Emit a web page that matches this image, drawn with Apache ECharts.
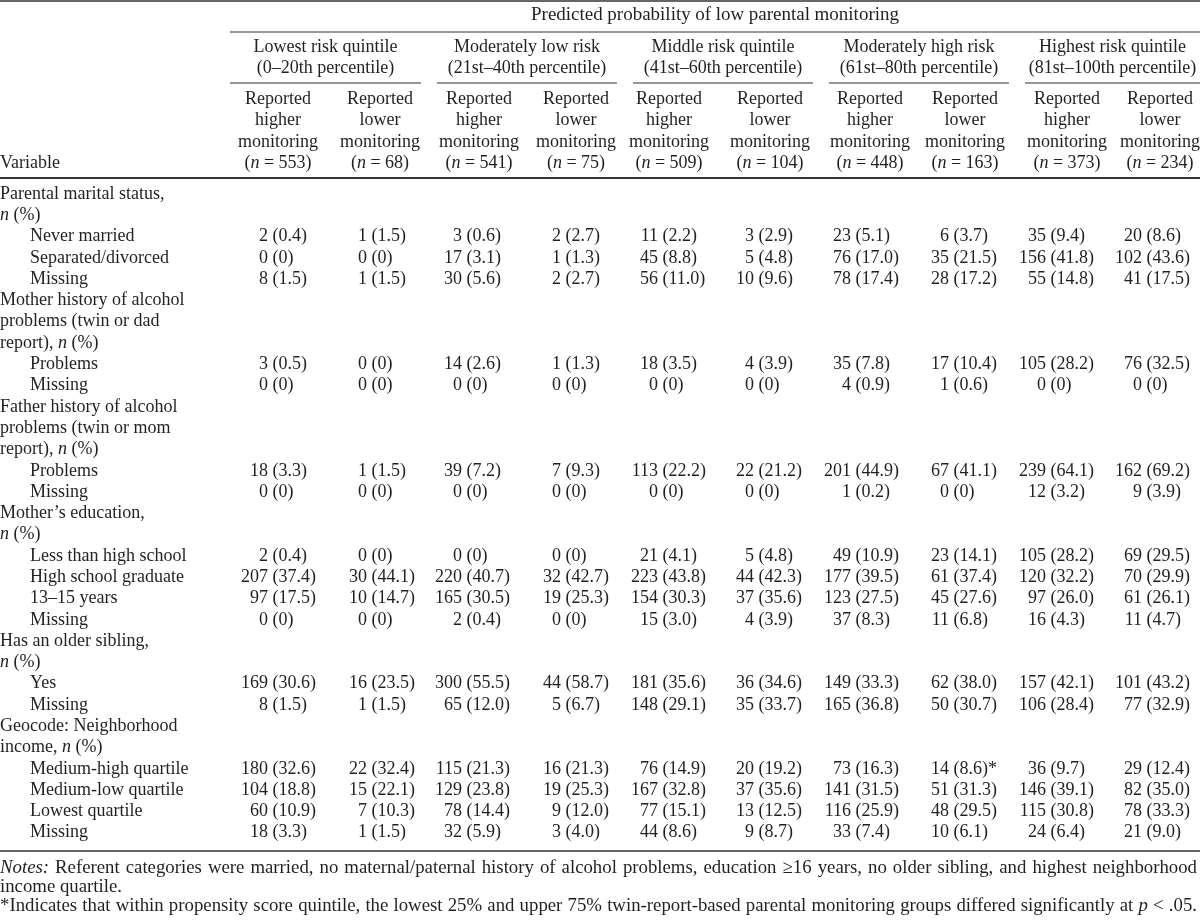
<!DOCTYPE html>
<html><head><meta charset="utf-8">
<script src="https://cdn.jsdelivr.net/npm/echarts@6/dist/echarts.min.js"></script>
<style>html,body{margin:0;padding:0;background:#fff}#c{width:1200px;height:921px}</style>
</head><body><div id="c"></div>
<script>
// ---------------- DATA ----------------
const spanTitle = 'Predicted probability of low parental monitoring';
const quintileTitles = ['Lowest risk quintile', 'Moderately low risk', 'Middle risk quintile', 'Moderately high risk', 'Highest risk quintile'];
const quintileRanges = ['(0–20th percentile)', '(21st–40th percentile)', '(41st–60th percentile)', '(61st–80th percentile)', '(81st–100th percentile)'];
const groupLabels = [['Reported', 'higher', 'monitoring'], ['Reported', 'lower', 'monitoring']];
const groupSizes = [553, 68, 541, 75, 509, 104, 448, 163, 373, 234];

const rowLabels = [
  'Parental marital status,', 'n (%)', 'Never married', 'Separated/divorced', 'Missing',
  'Mother history of alcohol', 'problems (twin or dad', 'report), n (%)', 'Problems', 'Missing',
  'Father history of alcohol', 'problems (twin or mom', 'report), n (%)', 'Problems', 'Missing',
  'Mother’s education,', 'n (%)', 'Less than high school', 'High school graduate', '13–15 years', 'Missing',
  'Has an older sibling,', 'n (%)', 'Yes', 'Missing',
  'Geocode: Neighborhood', 'income, n (%)', 'Medium-high quartile', 'Medium-low quartile', 'Lowest quartile', 'Missing'
];
const dataRows = [2, 3, 4, 8, 9, 13, 14, 17, 18, 19, 20, 23, 24, 27, 28, 29, 30];

const q1Higher = ['2 (0.4)', '0 (0)', '8 (1.5)', '3 (0.5)', '0 (0)', '18 (3.3)', '0 (0)', '2 (0.4)', '207 (37.4)', '97 (17.5)', '0 (0)', '169 (30.6)', '8 (1.5)', '180 (32.6)', '104 (18.8)', '60 (10.9)', '18 (3.3)'];
const q1Lower  = ['1 (1.5)', '0 (0)', '1 (1.5)', '0 (0)', '0 (0)', '1 (1.5)', '0 (0)', '0 (0)', '30 (44.1)', '10 (14.7)', '0 (0)', '16 (23.5)', '1 (1.5)', '22 (32.4)', '15 (22.1)', '7 (10.3)', '1 (1.5)'];
const q2Higher = ['3 (0.6)', '17 (3.1)', '30 (5.6)', '14 (2.6)', '0 (0)', '39 (7.2)', '0 (0)', '0 (0)', '220 (40.7)', '165 (30.5)', '2 (0.4)', '300 (55.5)', '65 (12.0)', '115 (21.3)', '129 (23.8)', '78 (14.4)', '32 (5.9)'];
const q2Lower  = ['2 (2.7)', '1 (1.3)', '2 (2.7)', '1 (1.3)', '0 (0)', '7 (9.3)', '0 (0)', '0 (0)', '32 (42.7)', '19 (25.3)', '0 (0)', '44 (58.7)', '5 (6.7)', '16 (21.3)', '19 (25.3)', '9 (12.0)', '3 (4.0)'];
const q3Higher = ['11 (2.2)', '45 (8.8)', '56 (11.0)', '18 (3.5)', '0 (0)', '113 (22.2)', '0 (0)', '21 (4.1)', '223 (43.8)', '154 (30.3)', '15 (3.0)', '181 (35.6)', '148 (29.1)', '76 (14.9)', '167 (32.8)', '77 (15.1)', '44 (8.6)'];
const q3Lower  = ['3 (2.9)', '5 (4.8)', '10 (9.6)', '4 (3.9)', '0 (0)', '22 (21.2)', '0 (0)', '5 (4.8)', '44 (42.3)', '37 (35.6)', '4 (3.9)', '36 (34.6)', '35 (33.7)', '20 (19.2)', '37 (35.6)', '13 (12.5)', '9 (8.7)'];
const q4Higher = ['23 (5.1)', '76 (17.0)', '78 (17.4)', '35 (7.8)', '4 (0.9)', '201 (44.9)', '1 (0.2)', '49 (10.9)', '177 (39.5)', '123 (27.5)', '37 (8.3)', '149 (33.3)', '165 (36.8)', '73 (16.3)', '141 (31.5)', '116 (25.9)', '33 (7.4)'];
const q4Lower  = ['6 (3.7)', '35 (21.5)', '28 (17.2)', '17 (10.4)', '1 (0.6)', '67 (41.1)', '0 (0)', '23 (14.1)', '61 (37.4)', '45 (27.6)', '11 (6.8)', '62 (38.0)', '50 (30.7)', '14 (8.6)*', '51 (31.3)', '48 (29.5)', '10 (6.1)'];
const q5Higher = ['35 (9.4)', '156 (41.8)', '55 (14.8)', '105 (28.2)', '0 (0)', '239 (64.1)', '12 (3.2)', '105 (28.2)', '120 (32.2)', '97 (26.0)', '16 (4.3)', '157 (42.1)', '106 (28.4)', '36 (9.7)', '146 (39.1)', '115 (30.8)', '24 (6.4)'];
const q5Lower  = ['20 (8.6)', '102 (43.6)', '41 (17.5)', '76 (32.5)', '0 (0)', '162 (69.2)', '9 (3.9)', '69 (29.5)', '70 (29.9)', '61 (26.1)', '11 (4.7)', '101 (43.2)', '77 (32.9)', '29 (12.4)', '82 (35.0)', '78 (33.3)', '21 (9.0)'];

const notesLine1 = '{i|Notes:} Referent categories were married, no maternal/paternal history of alcohol problems, education ≥16 years, no older sibling, and highest neighborhood';
const notesLine2 = 'income quartile.';
const notesLine3 = '*Indicates that within propensity score quintile, the lowest 25% and upper 75% twin-report-based parental monitoring groups differed significantly at {i|p} < .05.';

// ---------------- LAYOUT ----------------
const columns = [q1Higher, q1Lower, q2Higher, q2Lower, q3Higher, q3Lower, q4Higher, q4Lower, q5Higher, q5Lower];
const colAnchor = [268, 367, 462, 561, 658, 754, 851, 949, 1046, 1142];
const headCenter = [278, 380, 479, 576, 669, 770, 870, 965, 1067, 1160];
const segments = [[230, 421], [437, 617], [633, 813], [829, 1009], [1025, 1200]];
const FF = '"Liberation Serif", "Times New Roman", serif';
const FS = 18;
const FS_TITLE = 19;
const FS_NOTE = 18.8;
const INK = '#231f20';
const RULE = '#333';
const ROWH = 21.29, FIRSTY = 194;

function richFor(fs) { return { i: { fontStyle: 'italic', fontFamily: FF, fontSize: fs, fill: INK } }; }
function txt(x, y, text, align, fs) {
  fs = fs || FS;
  return {
    type: 'text', x: x, y: y, silent: true,
    style: { text: text, align: align || 'center', verticalAlign: 'middle', fontFamily: FF, fontSize: fs, fill: INK, rich: richFor(fs) }
  };
}
function rule(x1, x2, y, w) {
  return { type: 'line', silent: true, shape: { x1: x1, y1: y, x2: x2, y2: y }, style: { stroke: RULE, lineWidth: w } };
}
function italN(s) { return s.replace(/\bn \(%\)/, '{i|n} (%)'); }

const mctx = document.createElement('canvas').getContext('2d');
function measure(seg, italic, fs) { mctx.font = (italic ? 'italic ' : '') + fs + 'px ' + FF; return mctx.measureText(seg).width; }
function wordWidth(w, fs) {
  let total = 0; const re = /\{i\|([^}]*)\}|([^{]+)/g; let m;
  while ((m = re.exec(w))) total += (m[1] !== undefined) ? measure(m[1], true, fs) : measure(m[2], false, fs);
  return total;
}
function justified(out, x0, x1, y, line, fs) {
  const words = line.split(' ');
  const widths = words.map(w => wordWidth(w, fs));
  const sum = widths.reduce((a, b) => a + b, 0);
  const gap = (x1 - x0 - sum) / (words.length - 1);
  let x = x0;
  words.forEach((w, k) => { out.push(txt(x, y, w, 'left', fs)); x += widths[k] + gap; });
}

const graphics = [];
graphics.push(rule(0, 1200, 1, 1.6));
justified(graphics, 531, 899, 15, spanTitle, FS_TITLE);
graphics.push(rule(230, 1200, 32, 1.1));
segments.forEach((s, q) => {
  const cx = (s[0] + s[1]) / 2;
  graphics.push(txt(cx, 47, quintileTitles[q]));
  graphics.push(txt(cx, 68, quintileRanges[q]));
  graphics.push(rule(s[0], s[1], 83, 1.1));
});
headCenter.forEach((cx, c) => {
  const g = groupLabels[c % 2];
  graphics.push(txt(cx, 99, g[0]));
  graphics.push(txt(cx, 120, g[1]));
  graphics.push(txt(cx, 142, g[2]));
  graphics.push(txt(cx, 163, '({i|n} = ' + groupSizes[c] + ')'));
});
graphics.push(txt(0, 163, 'Variable', 'left'));
graphics.push(rule(0, 1200, 178, 1.8));
graphics.push(rule(0, 1200, 851, 1.6));
justified(graphics, 0, 1197, 868, notesLine1, FS_NOTE);
graphics.push(txt(0, 887, notesLine2, 'left', FS_NOTE));
justified(graphics, 0, 1197, 906, notesLine3, FS_NOTE);

const gridTop = FIRSTY - ROWH / 2;
const series = [];
series.push({
  type: 'custom', silent: true,
  data: rowLabels.map((l, i) => [dataRows.indexOf(i) >= 0 ? 30 : 0, i]),
  renderItem: function (params, api) {
    const p = api.coord([api.value(0), api.value(1)]);
    return txt(p[0], p[1], italN(rowLabels[params.dataIndex]), 'left');
  }
});
columns.forEach((vals, c) => {
  series.push({
    type: 'custom', silent: true,
    data: dataRows.map(r => [colAnchor[c], r]),
    renderItem: function (params, api) {
      const p = api.coord([api.value(0), api.value(1)]);
      const s = vals[params.dataIndex];
      const k = s.indexOf(' ');
      return {
        type: 'group',
        children: [
          txt(p[0], p[1], s.slice(0, k), 'right'),
          txt(p[0] + FS * 0.25, p[1], s.slice(k + 1), 'left')
        ]
      };
    }
  });
});

const chart = echarts.init(document.getElementById('c'), null, { renderer: 'canvas' });
chart.setOption({
  animation: false,
  backgroundColor: '#fff',
  grid: { left: 0, right: 0, top: gridTop, height: ROWH * rowLabels.length },
  xAxis: { type: 'value', min: 0, max: 1200, show: false },
  yAxis: { type: 'category', data: rowLabels.map((l, i) => String(i)), inverse: true, show: false },
  graphic: graphics,
  series: series
});
</script></body></html>
